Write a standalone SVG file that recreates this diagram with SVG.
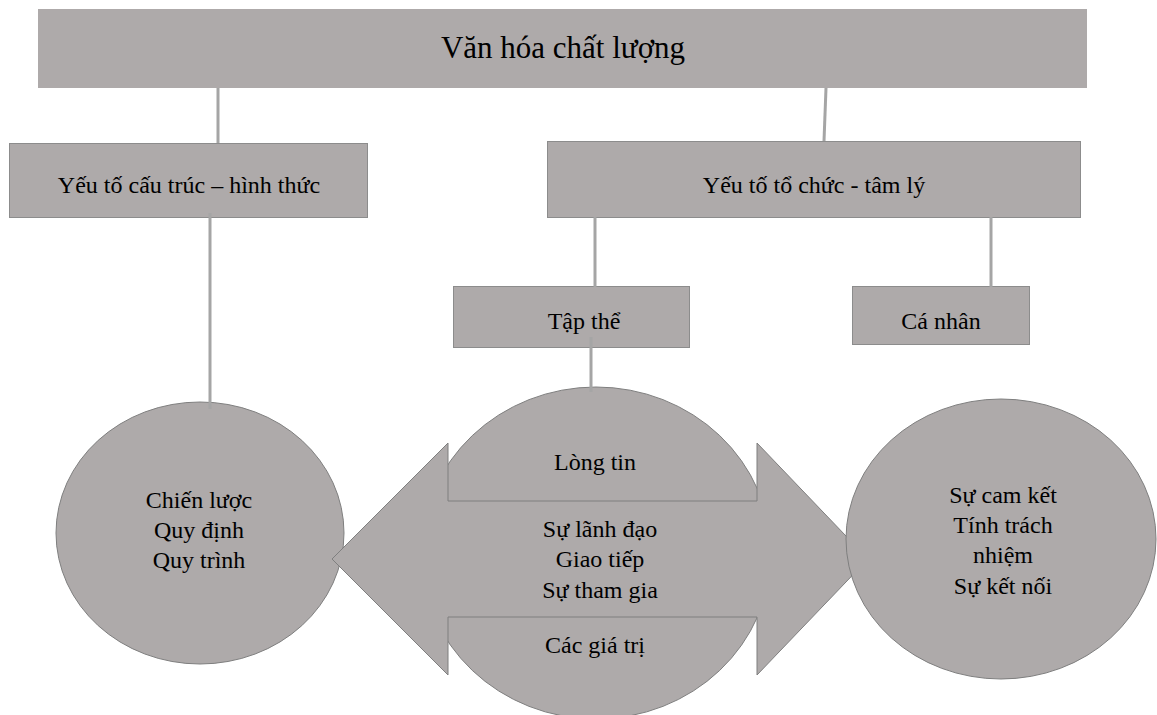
<svg xmlns="http://www.w3.org/2000/svg" width="1157" height="715" viewBox="0 0 1157 715">
<style>
.box{fill:#aeaaaa;stroke:#8c8c8c;stroke-width:1}
.shape{fill:#aeaaaa;stroke:#7f7f7f;stroke-width:1}
.conn{stroke:#a5a5a5;stroke-width:3;fill:none}
text{font-family:"Liberation Serif","Times New Roman",serif;font-size:24px;fill:#000;text-anchor:middle}
.title{font-size:31px}
</style>
<rect width="1157" height="715" fill="#fff"/>
<g id="n-title"><rect x="38" y="9" width="1049" height="79" fill="#aeaaaa"/><text class="title" x="563" y="58">Văn hóa chất lượng</text></g>
<g id="n-cautruc"><rect class="box" x="9.5" y="143.5" width="358" height="74"/><text x="189" y="193">Yếu tố cấu trúc – hình thức</text></g>
<g id="n-tochuc"><rect class="box" x="547.5" y="141.5" width="533" height="76"/><text x="814" y="193">Yếu tố tổ chức - tâm lý</text></g>
<g id="n-tapthe"><rect class="box" x="453.5" y="286.5" width="236" height="61"/><text x="584" y="329">Tập thể</text></g>
<g id="n-canhan"><rect class="box" x="852.5" y="286.5" width="177" height="58"/><text x="941" y="329">Cá nhân</text></g>
<g id="n-left"><ellipse class="shape" cx="200" cy="533" rx="144" ry="131"/><text x="199" y="508">Chiến lược</text><text x="199" y="538">Quy định</text><text x="199" y="568">Quy trình</text></g>
<g id="n-center"><ellipse class="shape" cx="596" cy="553" rx="175" ry="166"/><path class="shape" d="M332,559 L448,443 L448,501 L757,501 L757,443 L868,559 L757,675 L757,617 L448,617 L448,675 Z"/><text x="595" y="470">Lòng tin</text><text x="600" y="537">Sự lãnh đạo</text><text x="600" y="567">Giao tiếp</text><text x="600" y="598">Sự tham gia</text><text x="595" y="653">Các giá trị</text></g>
<g id="n-right"><ellipse class="shape" cx="1001" cy="539" rx="155" ry="140"/><text x="1003" y="503">Sự cam kết</text><text x="1003" y="533">Tính trách</text><text x="1003" y="563">nhiệm</text><text x="1003" y="594">Sự kết nối</text></g>
<g id="connectors"><line class="conn" x1="218" y1="88" x2="218" y2="143"/><line class="conn" x1="826" y1="88" x2="824" y2="141"/><line class="conn" x1="210" y1="213" x2="210" y2="409"/><line class="conn" x1="595" y1="217" x2="595" y2="287"/><line class="conn" x1="991" y1="217" x2="991" y2="287"/><line class="conn" x1="591" y1="337" x2="591" y2="392"/></g>
</svg>
